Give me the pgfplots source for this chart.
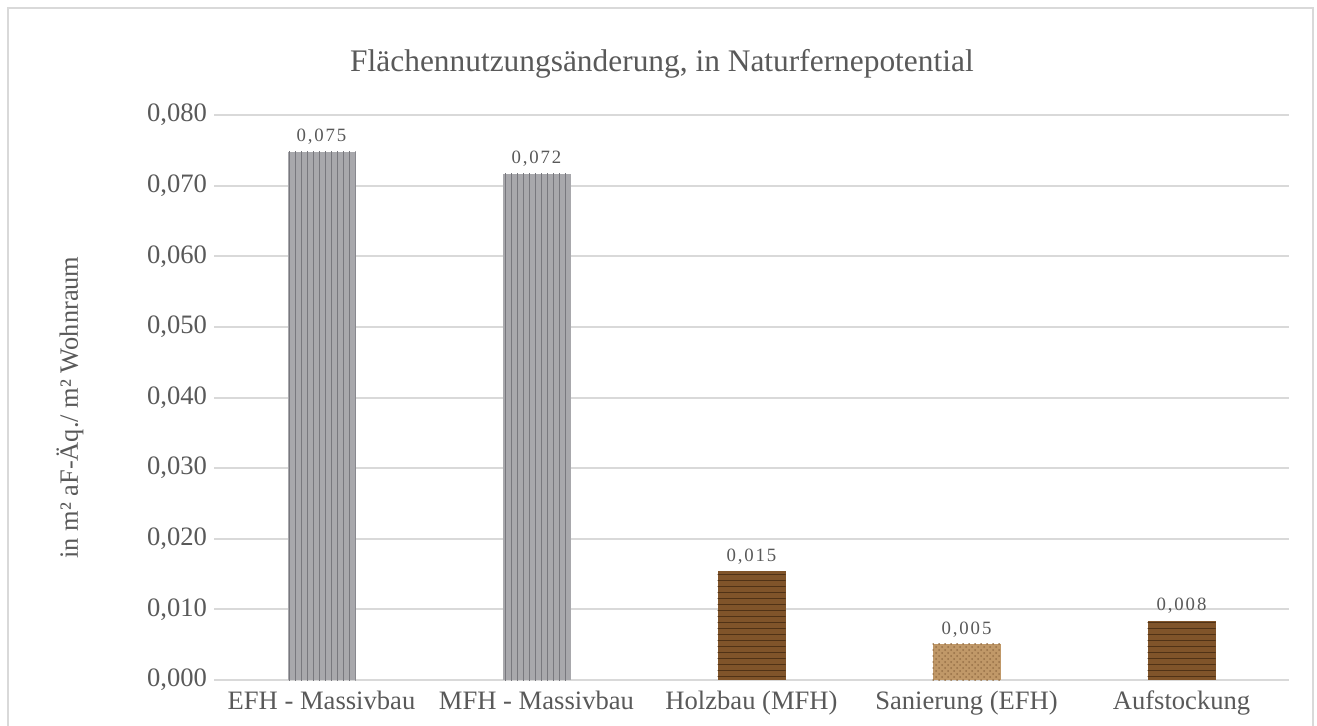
\documentclass[border=0pt]{standalone}
\usepackage{pgfplots}
\pgfplotsset{compat=1.18}
\usepackage{fontspec}
\setmainfont{Liberation Serif}
\newfontfamily\labelfont[LetterSpace=10]{Liberation Serif}
\usetikzlibrary{patterns}

\definecolor{txt}{RGB}{89,89,89}
\definecolor{gridc}{RGB}{217,217,217}
\definecolor{stone}{RGB}{168,168,172}
\definecolor{stonedark}{RGB}{120,120,126}
\definecolor{wood}{RGB}{128,84,42}
\definecolor{wooddark}{RGB}{80,50,22}
\definecolor{woodlight}{RGB}{192,152,104}
\definecolor{woodlightdark}{RGB}{150,112,70}

\begin{document}
\begin{tikzpicture}
\useasboundingbox (0pt,0pt) rectangle (658.5pt,362.5pt);
% chart frame
\draw[gridc, line width=1pt] (4pt,-5pt) rectangle (656.5pt,358.5pt);
\begin{axis}[
  at={(107pt,22.5pt)}, anchor=south west,
  scale only axis, width=537.5pt, height=282.5pt,
  ymin=0, ymax=0.08, ytick={0,0.01,...,0.08},
  scaled y ticks=false,
  xmin=-0.5, xmax=4.5, xtick={0,1,2,3,4},
  xticklabels={EFH - Massivbau, MFH - Massivbau, Holzbau (MFH), Sanierung (EFH), Aufstockung},
  axis line style={draw=none},
  major tick length=0pt,
  ymajorgrids, grid style={gridc, line width=1pt},
  tick label style={txt, font=\fontsize{13.3}{15}\selectfont},
  /pgf/number format/assume math mode=true,
  /pgf/number format/fixed,
  /pgf/number format/fixed zerofill,
  /pgf/number format/precision=3,
  /pgf/number format/use comma,
  xticklabel style={yshift=-2pt},
  ylabel={in m² aF-Äq./ m² Wohnraum},
  every axis y label/.style={at={(axis description cs:0,0.5)}, xshift=-72pt, yshift=-5pt,
    rotate=90, anchor=center, txt, font=\fontsize{13.2}{15}\selectfont},
  title={Flächennutzungsänderung, in Naturfernepotential},
  every axis title/.style={at={(axis description cs:0.4167,1)}, anchor=base, yshift=22pt,
    txt, font=\fontsize{15.7}{19}\selectfont},
  ybar, bar width=34pt, bar shift=0pt,
  nodes near coords,
  nodes near coords style={txt, font=\labelfont\fontsize{9.4}{11}\selectfont},
  clip=false,
]
\addplot[draw=none, fill=stone, postaction={pattern=vertical lines, pattern color=stonedark}] coordinates {(0,0.0748)};
\addplot[draw=none, fill=stone, postaction={pattern=vertical lines, pattern color=stonedark}] coordinates {(1,0.0717)};
\addplot[draw=none, fill=wood, postaction={pattern=horizontal lines, pattern color=wooddark}] coordinates {(2,0.0154)};
\addplot[draw=none, fill=woodlight, postaction={pattern=crosshatch dots, pattern color=woodlightdark}] coordinates {(3,0.0051)};
\addplot[draw=none, fill=wood, postaction={pattern=horizontal lines, pattern color=wooddark}] coordinates {(4,0.0084)};
\end{axis}
\end{tikzpicture}
\end{document}
